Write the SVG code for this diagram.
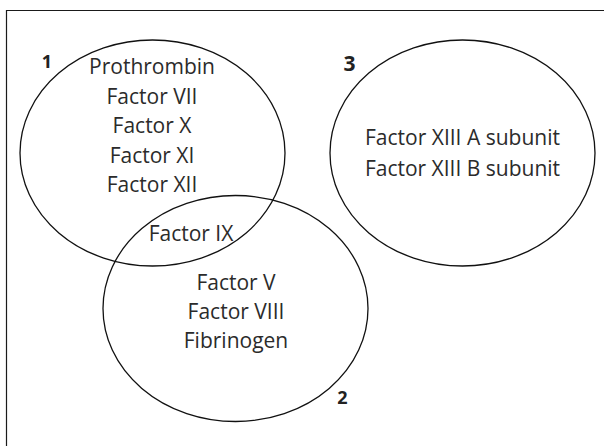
<svg xmlns="http://www.w3.org/2000/svg" width="604" height="446" viewBox="0 0 604 446">
<style>
.frame{fill:none;stroke:#1a1a1a;stroke-width:1.2}
.set{fill:none;stroke:#111;stroke-width:1.3}
.t{font-family:"Open Sans","DejaVu Sans",sans-serif;font-size:21px;fill:#2b2b2b;text-anchor:middle}
.n{font-family:"Open Sans","DejaVu Sans",sans-serif;font-size:18px;font-weight:bold;fill:#222;text-anchor:middle}
</style>
<rect width="604" height="446" fill="#fff"/>
<path class="frame" d="M6.5,446 V10.5 H604"/>
<g id="set1">
<ellipse class="set" cx="152.5" cy="153" rx="132.5" ry="113"/>
<text class="n" x="47" y="67.5">1</text>
<text class="t" x="152" y="74">Prothrombin</text>
<text class="t" x="152" y="104">Factor VII</text>
<text class="t" x="152" y="133">Factor X</text>
<text class="t" x="152" y="162.5">Factor XI</text>
<text class="t" x="152" y="192">Factor XII</text>
</g>
<g id="set2">
<ellipse class="set" cx="235.5" cy="308.5" rx="132.5" ry="113"/>
<text class="n" x="342.5" y="404">2</text>
<text class="t" x="236" y="290">Factor V</text>
<text class="t" x="236" y="319">Factor VIII</text>
<text class="t" x="236" y="348">Fibrinogen</text>
</g>
<g id="overlap12">
<text class="t" x="191" y="241">Factor IX</text>
</g>
<g id="set3">
<ellipse class="set" cx="462.5" cy="153" rx="132.5" ry="113"/>
<text class="n" x="349.5" y="71" style="font-size:21px">3</text>
<text class="t" x="462.5" y="145">Factor XIII A subunit</text>
<text class="t" x="462.5" y="176">Factor XIII B subunit</text>
</g>
</svg>
